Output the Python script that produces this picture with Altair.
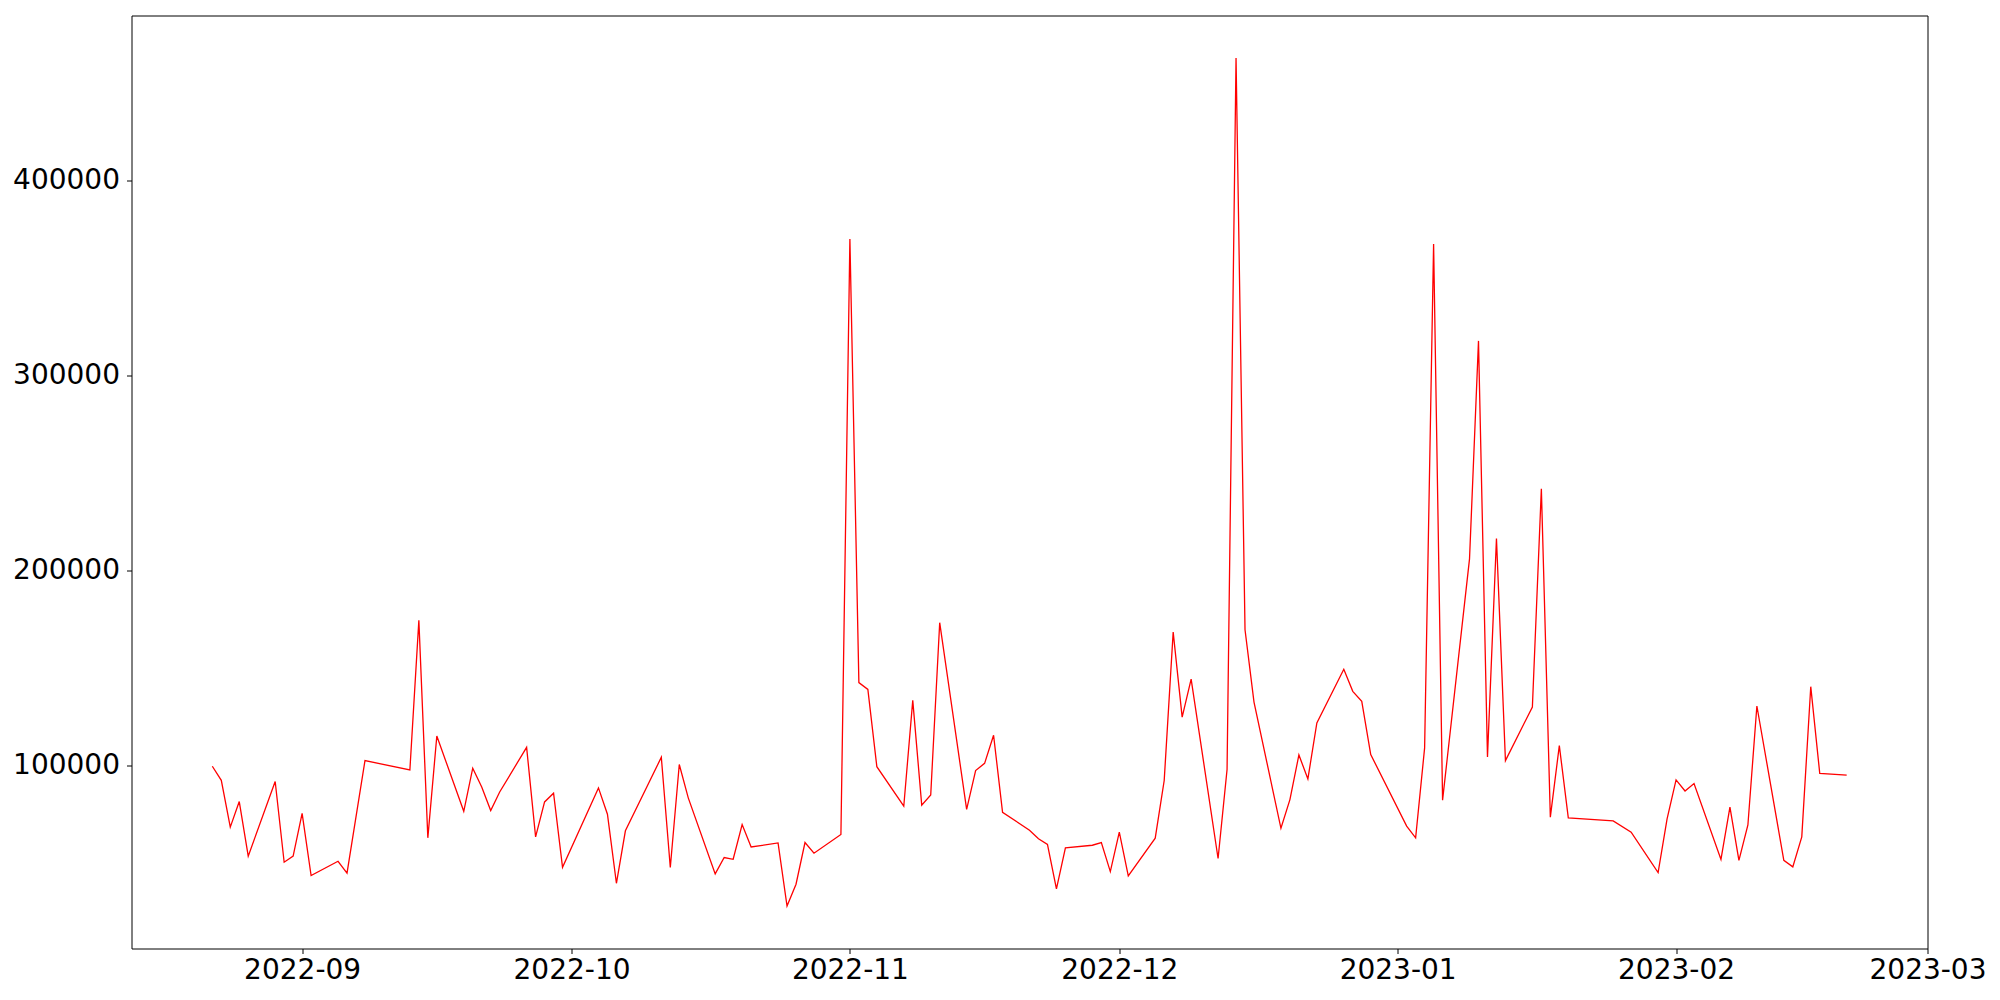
import altair as alt
import pandas as pd

dates = [
    "2022-08-22", "2022-08-23", "2022-08-24", "2022-08-25", "2022-08-26", "2022-08-29", "2022-08-30", "2022-08-31",
    "2022-09-01", "2022-09-02", "2022-09-05", "2022-09-06", "2022-09-08", "2022-09-13", "2022-09-14", "2022-09-15",
    "2022-09-16", "2022-09-19", "2022-09-20", "2022-09-21", "2022-09-22", "2022-09-23", "2022-09-26", "2022-09-27",
    "2022-09-28", "2022-09-29", "2022-09-30", "2022-10-04", "2022-10-05", "2022-10-06", "2022-10-07", "2022-10-11",
    "2022-10-12", "2022-10-13", "2022-10-14", "2022-10-17", "2022-10-18", "2022-10-19", "2022-10-20", "2022-10-21",
    "2022-10-24", "2022-10-25", "2022-10-26", "2022-10-27", "2022-10-28", "2022-10-31", "2022-11-01", "2022-11-02",
    "2022-11-03", "2022-11-04", "2022-11-07", "2022-11-08", "2022-11-09", "2022-11-10", "2022-11-11", "2022-11-14",
    "2022-11-15", "2022-11-16", "2022-11-17", "2022-11-18", "2022-11-21", "2022-11-22", "2022-11-23", "2022-11-24",
    "2022-11-25", "2022-11-28", "2022-11-29", "2022-11-30", "2022-12-01", "2022-12-02", "2022-12-05", "2022-12-06",
    "2022-12-07", "2022-12-08", "2022-12-09", "2022-12-12", "2022-12-13", "2022-12-14", "2022-12-15", "2022-12-16",
    "2022-12-19", "2022-12-20", "2022-12-21", "2022-12-22", "2022-12-23", "2022-12-26", "2022-12-27", "2022-12-28",
    "2022-12-29", "2023-01-02", "2023-01-03", "2023-01-04", "2023-01-05", "2023-01-06", "2023-01-09", "2023-01-10",
    "2023-01-11", "2023-01-12", "2023-01-13", "2023-01-16", "2023-01-17", "2023-01-18", "2023-01-19", "2023-01-20",
    "2023-01-25", "2023-01-27", "2023-01-30", "2023-01-31", "2023-02-01", "2023-02-02", "2023-02-03", "2023-02-06",
    "2023-02-07", "2023-02-08", "2023-02-09", "2023-02-10", "2023-02-13", "2023-02-14", "2023-02-15", "2023-02-16",
    "2023-02-17", "2023-02-20",
]

values = [
    99500, 92300, 68300, 81400, 53400, 91700, 50300, 53400,
    75300, 43500, 50800, 44700, 102400, 97600, 174300, 62800,
    115000, 76400, 98500, 88900, 76800, 86300, 109200, 63300,
    81200, 85700, 47700, 88400, 74900, 39500, 66400, 104100,
    47600, 100400, 83300, 44300, 52700, 51800, 69600, 58100,
    60200, 27800, 39000, 60400, 54900, 64500, 369900, 142400,
    138900, 99300, 79000, 133300, 79500, 84800, 173100, 77400,
    97300, 101000, 115400, 75900, 66700, 62300, 59400, 36600,
    57600, 59000, 60400, 45500, 65700, 43300, 62600, 92200,
    168300, 124700, 144200, 52200, 97800, 462700, 169500, 132400,
    67700, 82400, 105300, 93000, 121700, 149200, 137900, 132800,
    105500, 68800, 62800, 108900, 367300, 82100, 205800, 317600,
    104300, 216300, 102400, 129900, 241800, 73400, 110100, 73000,
    71500, 65700, 45000, 72500, 92500, 86800, 90600, 51700,
    78500, 51200, 69400, 130400, 51300, 47900, 63300, 140300,
    95900, 95000,
]

y_ticks = [100000, 200000, 300000, 400000]
x_tick_months = [(2022, 9), (2022, 10), (2022, 11), (2022, 12), (2023, 1), (2023, 2), (2023, 3)]

df = pd.DataFrame({"date": [d + "T00:00:00" for d in dates], "value": values})

x_ticks = [alt.DateTime(year=y, month=m, date=1) for (y, m) in x_tick_months]

chart = (
    alt.Chart(df)
    .mark_line(color="#ff0000", strokeWidth=1.3)
    .encode(
        x=alt.X(
            "date:T",
            scale=alt.Scale(
                domain=[
                    alt.DateTime(year=2022, month=8, date=13),
                    alt.DateTime(year=2023, month=3, date=1),
                ]
            ),
            axis=alt.Axis(
                values=x_ticks,
                format="%Y-%m",
                title=None,
                grid=False,
                domain=False,
                tickColor="black",
                tickSize=5,
                labelPadding=3,
                labelFontSize=28,
                labelFont="DejaVu Sans",
                labelColor="black",
                labelFlush=False,
                labelOverlap=False,
            ),
        ),
        y=alt.Y(
            "value:Q",
            scale=alt.Scale(domain=[6055, 484445], nice=False, zero=False),
            axis=alt.Axis(
                values=y_ticks,
                format="d",
                title=None,
                grid=False,
                domain=False,
                tickColor="black",
                tickSize=5,
                labelPadding=7,
                labelFontSize=28,
                labelFont="DejaVu Sans",
                labelColor="black",
                labelOverlap=False,
            ),
        ),
    )
    .properties(
        width=1796,
        height=933,
        background="white",
        autosize=alt.AutoSizeParams(type="none"),
        padding={"left": 123.5, "top": 7.5, "right": 60, "bottom": 50},
    )
    .configure_view(stroke="#000000", strokeWidth=1, strokeOpacity=1)
)

chart.save("out.html", embed_options={"renderer": "svg", "actions": False})
